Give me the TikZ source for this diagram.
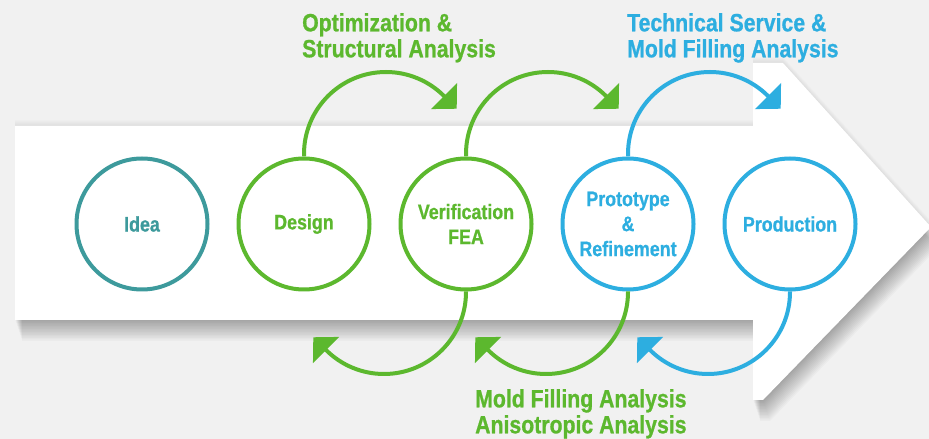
\documentclass[tikz,border=0pt]{standalone}
\usepackage{fontspec}
\newfontfamily\condfont{Liberation Sans Bold}[FakeStretch=0.85,FakeBold=0.8]
\usetikzlibrary{arrows.meta}
\definecolor{tealc}{HTML}{3D9A9C}
\definecolor{grn}{HTML}{5CB82E}
\definecolor{blu}{HTML}{2DAEE0}
\definecolor{bgc}{HTML}{F1F1F1}
\begin{document}
\begin{tikzpicture}[x=1pt,y=1pt,
  stage/.style={circle, minimum size=131pt, inner sep=0pt, line width=4pt, fill=white,
    align=center, font=\condfont\fontsize{21}{25}\selectfont},
  loopc/.style={line width=4pt, -{Triangle[width=36pt,length=18pt]}},
  lbl/.style={anchor=north west, inner sep=0pt, align=left,
    font=\condfont\fontsize{25}{26}\selectfont}]
\useasboundingbox (0,0) rectangle (929,439);
\fill[bgc] (0,0) rectangle (929,439);
\def\arrowshape{(15,119) -- (753,119) -- (753,39) -- (763,39) -- (931,212) -- (783,376) -- (753,376) -- (753,313) -- (15,313) -- cycle}
% soft shadows
\foreach \k in {1,...,14} \fill[black,opacity=0.022,shift={(0.5*\k,-1.5*\k)}] \arrowshape;
\foreach \k in {1,...,6} \fill[black,opacity=0.01,shift={(0,\k)}] \arrowshape;
% white arrow
\fill[white] \arrowshape;
% stages
\node[stage, draw=tealc, text=tealc] (idea) at (142,215) {Idea};
\node[stage, draw=grn, text=grn] (design) at (304,215) {Design};
\node[stage, draw=grn, text=grn] (verif) at (466,215) {Verification\\FEA};
\node[stage, draw=blu, text=blu] (proto) at (628,215) {Prototype\\\&\\Refinement};
\node[stage, draw=blu, text=blu] (prod) at (790,215) {Production};
% top loops
\draw[loopc, grn] (design.north) -- ++(0,2.5) arc[start angle=180, end angle=45, radius=82pt] -- ++(-45:18pt);
\draw[loopc, grn] (verif.north) -- ++(0,2.5) arc[start angle=180, end angle=45, radius=82pt] -- ++(-45:18pt);
\draw[loopc, blu] (proto.north) -- ++(0,2.5) arc[start angle=180, end angle=45, radius=82pt] -- ++(-45:18pt);
% bottom loops
\draw[loopc, grn] (verif.south) -- ++(0,-0.5) arc[start angle=0, end angle=-135, radius=82pt] -- ++(135:18pt);
\draw[loopc, grn] (proto.south) -- ++(0,-0.5) arc[start angle=0, end angle=-135, radius=82pt] -- ++(135:18pt);
\draw[loopc, blu] (prod.south) -- ++(0,-0.5) arc[start angle=0, end angle=-135, radius=82pt] -- ++(135:18pt);
% labels
\node[lbl, text=grn] (optlbl) at (302,426) {Optimization \&\\Structural Analysis};
\node[lbl, text=blu] (techlbl) at (627,426) {Technical Service \&\\Mold Filling Analysis};
\node[lbl, text=grn] (moldlbl) at (475,50) {Mold Filling Analysis\\Anisotropic Analysis};
\end{tikzpicture}
\end{document}
